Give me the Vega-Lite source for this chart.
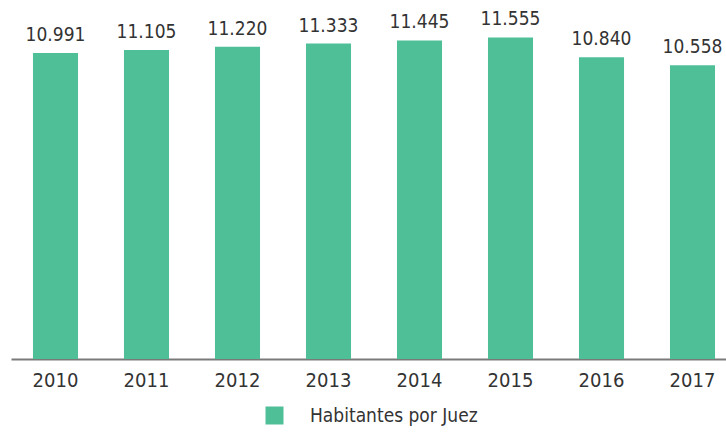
{
  "$schema": "https://vega.github.io/schema/vega-lite/v6.json",
  "width": 715,
  "height": 334,
  "autosize": {"type": "none"},
  "padding": {"left": 11, "top": 25, "right": 0, "bottom": 73},
  "background": "white",
  "config": {
    "view": {"stroke": null},
    "font": "'DejaVu Sans Condensed', Roboto",
    "locale": {"number": {"decimal": ",", "thousands": ".", "grouping": [3], "currency": ["", " €"]}}
  },
  "data": {
    "values": [
      {"anio": "2010", "valor": 10991, "serie": "Habitantes por Juez"},
      {"anio": "2011", "valor": 11105, "serie": "Habitantes por Juez"},
      {"anio": "2012", "valor": 11220, "serie": "Habitantes por Juez"},
      {"anio": "2013", "valor": 11333, "serie": "Habitantes por Juez"},
      {"anio": "2014", "valor": 11445, "serie": "Habitantes por Juez"},
      {"anio": "2015", "valor": 11555, "serie": "Habitantes por Juez"},
      {"anio": "2016", "valor": 10840, "serie": "Habitantes por Juez"},
      {"anio": "2017", "valor": 10558, "serie": "Habitantes por Juez"}
    ]
  },
  "encoding": {
    "x": {
      "field": "anio",
      "type": "ordinal",
      "scale": {"paddingInner": 0.505, "paddingOuter": 0.181, "align": 0.667},
      "axis": {
        "title": null,
        "labelAngle": 0,
        "ticks": false,
        "labelFontSize": 20,
        "labelColor": "#333333",
        "labelPadding": 11,
        "domainColor": "#7a7a7a",
        "domainWidth": 2,
        "labelFont": "'DejaVu Sans Condensed', Roboto"
      }
    },
    "y": {
      "field": "valor",
      "type": "quantitative",
      "scale": {"domain": [0, 12000]},
      "axis": null
    }
  },
  "layer": [
    {
      "mark": {"type": "bar"},
      "encoding": {
        "color": {
          "field": "serie",
          "type": "nominal",
          "scale": {"range": ["#4fbf98"]},
          "legend": {
            "title": null,
            "orient": "none",
            "legendX": 254,
            "legendY": 381,
            "direction": "horizontal",
            "symbolType": "square",
            "symbolSize": 324,
            "symbolStrokeWidth": 0,
            "labelFontSize": 19,
            "labelLimit": 400,
            "labelColor": "#333333",
            "labelFont": "'DejaVu Sans Condensed', Roboto",
            "labelOffset": 26
          }
        }
      }
    },
    {
      "mark": {"type": "text", "baseline": "alphabetic", "dy": -12, "fontSize": 19, "color": "#333333", "font": "'DejaVu Sans Condensed', Roboto"},
      "encoding": {
        "text": {"field": "valor", "type": "quantitative", "format": ",.0f"}
      }
    }
  ]
}
